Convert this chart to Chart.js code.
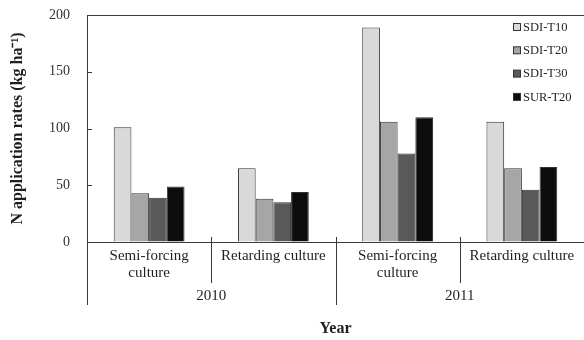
<!DOCTYPE html>
<html>
<head>
<meta charset="utf-8">
<script src="https://cdn.jsdelivr.net/npm/chart.js@4.4.1/dist/chart.umd.min.js"></script>
<style>
  html, body { margin: 0; padding: 0; background: #fff; }
  #wrap { width: 584px; height: 340px; position: relative; }
</style>
</head>
<body>
<div id="wrap"><canvas id="c" width="584" height="340"></canvas></div>
<script>
// Crop groups along the x axis (two cultures per year)
const categories = ['2010 Semi-forcing', '2010 Retarding', '2011 Semi-forcing', '2011 Retarding'];
const cultureLabels = [['Semi-forcing', 'culture'], ['Retarding culture'], ['Semi-forcing', 'culture'], ['Retarding culture']];
const yearLabels = ['2010', '2011'];
const seriesNames = ['SDI-T10', 'SDI-T20', 'SDI-T30', 'SUR-T20'];

// N application rates, kg ha-1
const sdiT10 = [101, 65, 189, 106];
const sdiT20 = [43, 38, 106, 65];
const sdiT30 = [39, 35, 78, 46];
const surT20 = [49, 44, 110, 66];

const yTicks = [0, 50, 100, 150, 200];

const fills = ['#d9d9d9', '#a6a6a6', '#595959', '#0d0d0d'];
const serif = "'Liberation Serif', 'Times New Roman', serif";
const ink = '#1f1f1f';
const lineCol = '#3a3a3a';

// Frame, inward ticks, two-level category axis and the inset legend
const decorations = {
  id: 'decorations',
  afterDraw(chart) {
    const ctx = chart.ctx;
    const area = chart.chartArea;
    const x = chart.scales.x, y = chart.scales.y;
    const y0 = y.getPixelForValue(0);
    ctx.save();
    ctx.strokeStyle = lineCol;
    ctx.lineWidth = 1;
    // top and bottom frame lines
    ctx.beginPath();
    ctx.moveTo(area.left, Math.round(area.top) + 0.5);
    ctx.lineTo(area.right, Math.round(area.top) + 0.5);
    ctx.moveTo(area.left, Math.round(y0) + 0.5);
    ctx.lineTo(area.right, Math.round(y0) + 0.5);
    // inward y ticks
    yTicks.forEach(v => {
      const py = Math.round(y.getPixelForValue(v)) + 0.5;
      ctx.moveTo(area.left, py);
      ctx.lineTo(area.left + 5, py);
    });
    ctx.stroke();

    // dividers between cultures (short) and between years (long)
    const mids = [];
    for (let i = 0; i < categories.length - 1; i++) {
      mids.push((x.getPixelForValue(i) + x.getPixelForValue(i + 1)) / 2);
    }
    ctx.beginPath();
    const left = Math.round(area.left) + 0.5;
    ctx.moveTo(left, y0);
    ctx.lineTo(left, y0 + 63);
    mids.forEach((mx, i) => {
      const px = Math.round(mx) + 0.5;
      ctx.moveTo(px, y0 - 5);
      ctx.lineTo(px, y0 + (i === 1 ? 63 : 41));
    });
    ctx.stroke();

    // culture labels
    ctx.fillStyle = ink;
    ctx.textAlign = 'center';
    ctx.textBaseline = 'middle';
    ctx.font = '15px ' + serif;
    cultureLabels.forEach((lines, i) => {
      const cx = x.getPixelForValue(i);
      lines.forEach((t, k) => ctx.fillText(t, cx, y0 + 14 + k * 17));
    });
    // year labels, centred under each year's pair
    yearLabels.forEach((t, i) => {
      ctx.fillText(t, mids[i * 2], y0 + 54);
    });
    // axis title
    ctx.font = 'bold 16px ' + serif;
    ctx.fillText('Year', (area.left + area.right) / 2, y0 + 87);

    // legend
    ctx.font = '12.5px ' + serif;
    ctx.textAlign = 'left';
    chart.data.datasets.forEach((ds, i) => {
      const ly = area.top + 12 + i * 23.3;
      const bx = 513;
      ctx.fillStyle = ds.backgroundColor;
      ctx.fillRect(bx, ly - 3.5, 7, 7);
      ctx.strokeStyle = '#333';
      ctx.strokeRect(bx + 0.5, ly - 3.5, 7, 7);
      ctx.fillStyle = ink;
      ctx.fillText(ds.label, bx + 10, ly + 0.5);
    });
    ctx.restore();
  }
};

const datasetValues = [sdiT10, sdiT20, sdiT30, surT20];

new Chart(document.getElementById('c'), {
  type: 'bar',
  data: {
    labels: categories,
    datasets: seriesNames.map((name, i) => ({
      label: name,
      data: datasetValues[i],
      backgroundColor: fills[i],
      borderColor: '#333',
      borderWidth: 1,
      categoryPercentage: 0.57,
      barPercentage: 1.0
    }))
  },
  options: {
    responsive: false,
    animation: false,
    devicePixelRatio: 1,
    layout: { padding: { top: 15, right: 0, bottom: 98, left: 0 } },
    plugins: { legend: { display: false }, tooltip: { enabled: false } },
    scales: {
      x: {
        display: false,
        offset: true
      },
      y: {
        min: 0, max: 200,
        afterFit(s) {
          s.width = 87;
          s.paddingTop = 0;
          s.paddingBottom = 0;
        },
        afterBuildTicks(s) { s.ticks = yTicks.map(v => ({ value: v })); },
        grid: { drawOnChartArea: false, drawTicks: false },
        border: { display: true, color: lineCol, width: 1 },
        ticks: {
          font: { family: serif, size: 14 },
          color: '#333',
          padding: 17
        },
        title: {
          display: true,
          text: 'N application rates (kg ha\u207B\u00B9)',
          font: { family: serif, size: 16, weight: 'bold' },
          color: ink,
          padding: { top: 8, bottom: 0 }
        }
      }
    }
  },
  plugins: [decorations]
});
</script>
</body>
</html>
